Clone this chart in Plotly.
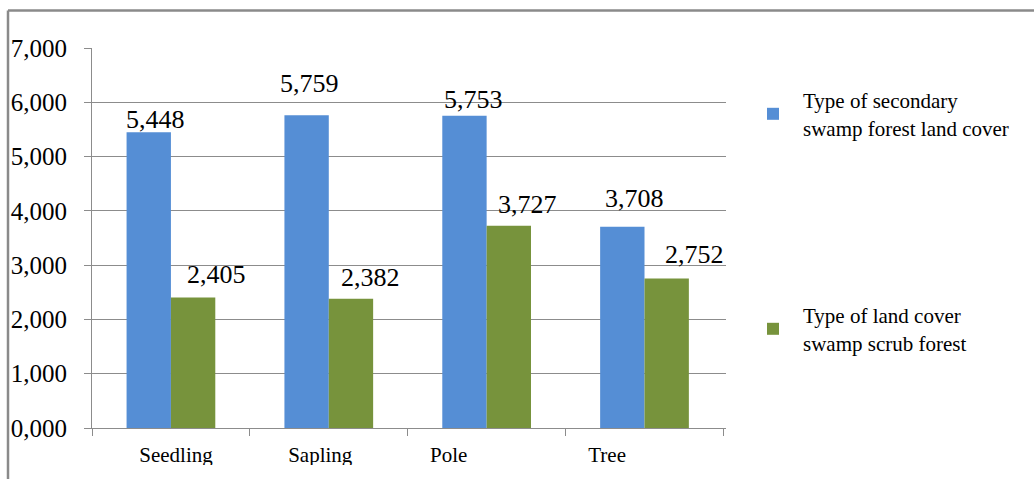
import plotly.graph_objects as go

# Stand density by growth stage for two land-cover types
stages = ["Seedling", "Sapling", "Pole", "Tree"]
secondary_swamp_forest = [5.448, 5.759, 5.753, 3.708]
swamp_scrub_forest = [2.405, 2.382, 3.727, 2.752]
series_names = [
    "Type of secondary<br>swamp forest land cover",
    "Type of land cover<br>swamp scrub forest",
]

BLUE = "#558ED5"
GREEN = "#77933C"
GRID = "#8C8C8C"
SERIF = "'Liberation Serif', 'Times New Roman', Times, serif"

# plot area in pixels (figure is 1034 x 479)
W, H = 1034, 479
L, R, T, B = 92, 726, 48, 428


def px_x(px):
    return (px - L) / (R - L)


def px_y(py):
    return (B - py) / (B - T)


def fmt(v):
    return f"{v:.3f}".replace(".", ",")


fig = go.Figure()
fig.add_trace(go.Bar(
    x=stages, y=secondary_swamp_forest, name=series_names[0],
    marker=dict(color=BLUE, line=dict(width=0)), legend="legend",
))
fig.add_trace(go.Bar(
    x=stages, y=swamp_scrub_forest, name=series_names[1],
    marker=dict(color=GREEN, line=dict(width=0)), legend="legend2",
))

# value labels, nudged individually around each bar top
label_dx = [(-15, 46), (-19, 42), (-13, 41), (-10, 50)]
label_dy = [(13, 23), (32, 21), (16, 21), (28, 24)]
for i, stage in enumerate(stages):
    for j, series in enumerate([secondary_swamp_forest, swamp_scrub_forest]):
        fig.add_annotation(
            x=stage, y=series[i], xref="x", yref="y",
            text=fmt(series[i]), showarrow=False,
            xanchor="center", yanchor="middle",
            xshift=label_dx[i][j], yshift=label_dy[i][j],
            font=dict(family=SERIF, size=26, color="black"),
        )

# category labels on a numeric overlay axis so they can be offset per stage
stage_label_dx = [0.03, -0.06, -0.25, -0.25]

fig.update_layout(
    width=W, height=H,
    margin=dict(l=L, r=W - R, t=T, b=H - B),
    paper_bgcolor="white", plot_bgcolor="white",
    separators=",.",
    barmode="group", bargap=0.438, bargroupgap=0,
    font=dict(family=SERIF, color="black"),
    xaxis=dict(
        showticklabels=False,
        showline=True, linecolor=GRID, linewidth=1,
        ticks="outside", ticklen=7, tickcolor=GRID, tickson="boundaries",
        showgrid=False,
    ),
    xaxis2=dict(
        overlaying="x", side="bottom", anchor="y",
        range=[-0.5, len(stages) - 0.5],
        tickmode="array",
        tickvals=[i + d for i, d in enumerate(stage_label_dx)],
        ticktext=stages,
        ticks="", showgrid=False, showline=False, zeroline=False,
        tickfont=dict(family=SERIF, size=21, color="black"),
        ticklabelstandoff=12,
    ),
    yaxis=dict(
        range=[0, 7], dtick=1, tickformat=".3f",
        showline=True, linecolor=GRID, linewidth=1,
        ticks="outside", ticklen=7, tickcolor=GRID,
        showgrid=True, gridcolor=GRID, gridwidth=1,
        zeroline=False,
        tickfont=dict(family=SERIF, size=25, color="black"),
        ticklabelstandoff=12,
    ),
    legend=dict(
        xref="container", yref="container",
        x=743 / W, y=1 - 80 / H, xanchor="left", yanchor="top",
        font=dict(family=SERIF, size=21, color="black"),
        itemwidth=50, bgcolor="rgba(0,0,0,0)", tracegroupgap=0,
    ),
    legend2=dict(
        xref="container", yref="container",
        x=743 / W, y=1 - 295 / H, xanchor="left", yanchor="top",
        font=dict(family=SERIF, size=21, color="black"),
        itemwidth=50, bgcolor="rgba(0,0,0,0)", tracegroupgap=0,
    ),
    showlegend=True,
)

# empty trace so the overlay axis is drawn
fig.add_trace(go.Scatter(x=[], y=[], xaxis="x2", yaxis="y",
                         showlegend=False, hoverinfo="skip"))

# outer frame (top and left edges) and the clipped strip along the bottom
fig.add_shape(type="rect", xref="paper", yref="paper",
              x0=px_x(9), x1=px_x(W + 5), y0=px_y(465), y1=px_y(H + 5),
              fillcolor="white", line=dict(width=0), layer="above")
fig.add_shape(type="line", xref="paper", yref="paper",
              x0=px_x(8), x1=px_x(8), y0=px_y(10.5), y1=px_y(H + 5),
              line=dict(color="#8A8A8A", width=2.5), layer="above")
fig.add_shape(type="line", xref="paper", yref="paper",
              x0=px_x(8), x1=px_x(W + 5), y0=px_y(10.5), y1=px_y(10.5),
              line=dict(color="#8A8A8A", width=2.5), layer="above")

fig.write_html("out.html")
